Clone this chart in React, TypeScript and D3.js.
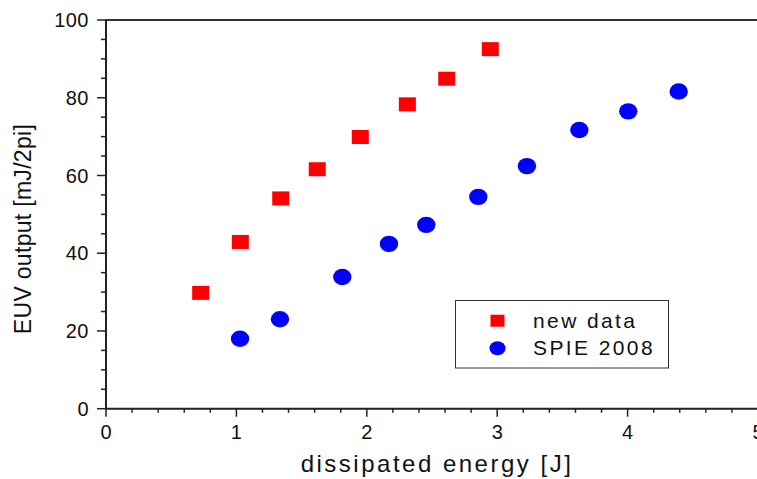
import React from "react";
import * as d3 from "d3";

const newDataX = [0.726, 1.03, 1.34, 1.62, 1.95, 2.311, 2.613, 2.947];
const newDataY = [29.8, 42.9, 54.1, 61.6, 69.9, 78.3, 84.9, 92.5];
const spieX = [1.028, 1.334, 1.812, 2.17, 2.456, 2.855, 3.228, 3.63, 4.005, 4.392];
const spieY = [18.0, 23.0, 33.9, 42.4, 47.3, 54.5, 62.4, 71.7, 76.5, 81.6];
const xTicks = [0, 1, 2, 3, 4, 5];
const yTicks = [0, 20, 40, 60, 80, 100];
const legendLabels = ["new data", "SPIE 2008"];

const W = 757;
const H = 479;
const FONT = "'Liberation Sans', Arial, sans-serif";

export default function App() {
  const x = d3.scaleLinear().domain([0, 5]).range([106, 758]);
  const y = d3.scaleLinear().domain([0, 100]).range([408.7, 20]);
  const xMinor = d3.range(0, 5.001, 0.2).filter((v) => Math.abs(v - Math.round(v)) > 1e-6);
  const yMinor = d3.range(0, 100.001, 5).filter((v) => v % 20 !== 0);
  const axisColor = "#222";
  const newData = newDataX.map((v, i) => ({ x: v, y: newDataY[i] }));
  const spie = spieX.map((v, i) => ({ x: v, y: spieY[i] }));

  return (
    <div style={{ position: "absolute", left: 0, top: 0 }}>
      <svg width={W} height={H} style={{ display: "block", background: "#fff" }}>
        <line x1={x(0)} x2={W} y1={y(100)} y2={y(100)} stroke="#333" strokeWidth={2} />
        <line x1={x(0)} x2={x(0)} y1={y(100)} y2={y(0) + 1} stroke={axisColor} strokeWidth={2} />
        <line x1={x(0) - 1} x2={W} y1={y(0)} y2={y(0)} stroke={axisColor} strokeWidth={2} />
        {yTicks.map((t) => (
          <g key={"yt" + t}>
            <line x1={x(0) - 9} x2={x(0)} y1={y(t)} y2={y(t)} stroke={axisColor} strokeWidth={1.5} />
            <text x={x(0) - 17} y={y(t)} dy="0.36em" textAnchor="end" fontFamily={FONT} fontSize={20} letterSpacing={0.5} fill="#111">
              {t}
            </text>
          </g>
        ))}
        {yMinor.map((t) => (
          <line key={"ym" + t} x1={x(0) - 5} x2={x(0)} y1={y(t)} y2={y(t)} stroke={axisColor} strokeWidth={1.5} />
        ))}
        {xTicks.map((t) => (
          <g key={"xt" + t}>
            <line x1={x(t)} x2={x(t)} y1={y(0)} y2={y(0) + 8} stroke={axisColor} strokeWidth={1.5} />
            <text x={x(t)} y={439} textAnchor="middle" fontFamily={FONT} fontSize={20} fill="#111">
              {t}
            </text>
          </g>
        ))}
        {xMinor.map((t) => (
          <line key={"xm" + t} x1={x(t)} x2={x(t)} y1={y(0)} y2={y(0) + 4} stroke={axisColor} strokeWidth={1.5} />
        ))}
        <text x={437} y={472} textAnchor="middle" fontFamily={FONT} fontSize={24} letterSpacing={2.5} fill="#111">
          dissipated energy [J]
        </text>
        <text
          transform={`translate(31,229) rotate(-90)`}
          textAnchor="middle"
          fontFamily={FONT}
          fontSize={23}
          letterSpacing={0.3}
          fill="#111"
        >
          EUV output [mJ/2pi]
        </text>
        {newData.map((d, i) => (
          <rect key={"r" + i} x={x(d.x) - 8.5} y={y(d.y) - 7} width={17} height={14} fill="#ff0000" />
        ))}
        {spie.map((d, i) => (
          <ellipse key={"c" + i} cx={x(d.x)} cy={y(d.y)} rx={9.2} ry={8.2} fill="#0000ff" />
        ))}
        <rect x={455.5} y={300.5} width={213} height={67.5} fill="#fff" stroke="#333" strokeWidth={1} />
        <rect x={497.5 - 7} y={320.7 - 6} width={14} height={12} fill="#ff0000" />
        <ellipse cx={497.5} cy={348.3} rx={8} ry={7} fill="#0000ff" />
        {legendLabels.map((l, i) => (
          <text key={l} x={533} y={328 + i * 27} fontFamily={FONT} fontSize={21} letterSpacing={2.4} fill="#111">
            {l}
          </text>
        ))}
      </svg>
    </div>
  );
}
